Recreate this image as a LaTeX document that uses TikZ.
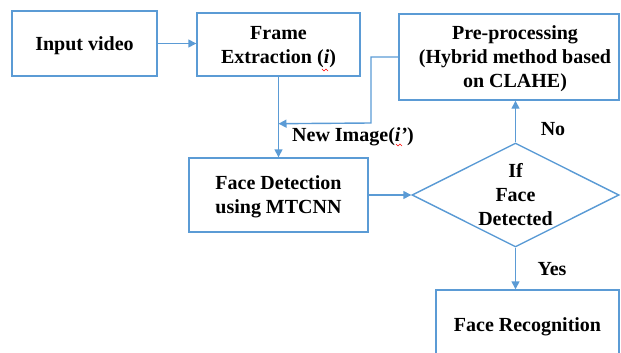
\documentclass[tikz,border=0pt]{standalone}
\usepackage{fontspec}
\setmainfont{Liberation Serif}
\usetikzlibrary{arrows.meta,shapes.geometric}
\definecolor{lblue}{RGB}{91,155,213}
\begin{document}
\begin{tikzpicture}[x=1pt,y=-1pt,
  box/.style={draw=lblue, line width=1.4pt, rectangle, inner sep=0pt, align=center,
              text depth=0pt, font=\fontsize{20}{24}\selectfont\bfseries},
  lbl/.style={font=\fontsize{20}{24}\selectfont\bfseries, inner sep=0pt},
  conn/.style={draw=lblue, line width=1.4pt, -{Triangle[length=8pt,width=8pt]}},
  squig/.style={draw=red, line width=0.6pt},
]
\useasboundingbox (0,0) rectangle (621,353);
\clip (0,0) rectangle (621,353);

\node[box, minimum width=145pt, minimum height=65pt] (input) at (84.5,43.5) {Input video};
\node[box, minimum width=163pt, minimum height=63pt] (frame) at (278.5,44.5) {Frame\\Extraction (\textit{i})};
\node[box, minimum width=220pt, minimum height=86pt] (pre) at (509,57) {};
\node[lbl, align=center, text depth=0pt] (pretext) at ([xshift=6pt]pre.center) {Pre-processing\\(Hybrid method based\\on CLAHE)};
\node[box, minimum width=179pt, minimum height=74pt] (fd) at (278.5,195) {Face Detection\\using MTCNN};
\node[diamond, draw=lblue, line width=1.4pt, minimum width=207pt, minimum height=104pt, inner sep=0pt] (dec) at (515.5,195) {};
\node[lbl, align=center] (dectext) at (dec.center) {If\\Face\\Detected};
\node[box, minimum width=183pt, minimum height=70pt] (fr) at (527.5,325) {Face Recognition};

\draw[conn] (input.east) -- (input.east -| frame.west);
\draw[conn] (frame.south) -- (fd.north);
\path (frame.south) ++(0,47) coordinate (join);
\coordinate (fbk) at (371,123);
\draw[conn] (pre.west) -| (fbk) -- (join);
\draw[conn] (fd.east) -- (dec.west);
\draw[conn] (dec.north) -- (dec.north |- pre.south);
\draw[conn] (dec.south) -- (dec.south |- fr.north);

\node[lbl, anchor=base west] (newimg) at (292,141) {New Image(\textit{i’})};
\node[lbl, anchor=base] (no) at (553,135) {No};
\node[lbl, anchor=base] (yes) at (552,275) {Yes};

\draw[squig] (322,69) -- (324,71) -- (326,69) -- (328,71);
\draw[squig] (396,144) -- (398,146) -- (400,144) -- (402,146);
\end{tikzpicture}
\end{document}
